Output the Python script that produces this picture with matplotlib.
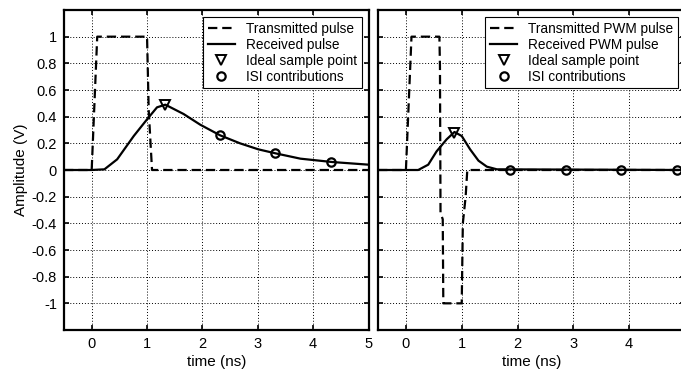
import matplotlib
matplotlib.use("Agg")
import matplotlib.pyplot as plt
from matplotlib.ticker import FixedLocator, FixedFormatter

plt.rcParams['font.family'] = ['Liberation Sans', 'DejaVu Sans']

# ---- data: left panel (single pulse) ----
tx_t = [-0.5, 0.0, 0.1, 1.0, 1.03, 1.09, 5.0]
tx_v = [0.0, 0.0, 1.0, 1.0, 0.45, 0.0, 0.0]
rx_t = [-0.5, 0.0, 0.23, 0.46, 0.76, 1.0, 1.18, 1.33, 1.66, 1.96, 2.32, 2.68,
        3.01, 3.32, 3.77, 4.34, 5.0]
rx_v = [0.0, 0.0, 0.005, 0.08, 0.255, 0.38, 0.47, 0.49, 0.42, 0.34, 0.26, 0.20,
        0.155, 0.125, 0.085, 0.06, 0.04]
samp_t = [1.32]
samp_v = [0.485]
isi_t = [2.32, 3.32, 4.32]
isi_v = [0.26, 0.125, 0.06]

# ---- data: right panel (PWM pulse) ----
ptx_t = [-0.5, 0.0, 0.1, 0.6, 0.61, 0.62, 0.66, 0.67, 1.0, 1.02, 1.07, 1.1, 5.0]
ptx_v = [0.0, 0.0, 1.0, 1.0, 0.78, -0.32, -0.37, -1.0, -1.0, -0.4, -0.2, 0.0, 0.0]
prx_t = [-0.5, 0.0, 0.22, 0.40, 0.55, 0.73, 0.87, 1.0, 1.15, 1.30, 1.45, 1.63, 5.0]
prx_v = [0.0, 0.0, 0.0, 0.04, 0.14, 0.23, 0.285, 0.255, 0.155, 0.07, 0.025, 0.005, 0.0]
psamp_t = [0.87]
psamp_v = [0.28]
pisi_t = [1.86, 2.86, 3.86, 4.86]
pisi_v = [0.0, 0.0, 0.0, 0.0]

xticks = [0, 1, 2, 3, 4, 5]
xtick_labels_left = ['0', '1', '2', '3', '4', '5']
xtick_labels_right = ['0', '1', '2', '3', '4', '']  # the "5" falls outside the picture
yticks = [1, 0.8, 0.6, 0.4, 0.2, 0, -0.2, -0.4, -0.6, -0.8, -1]
ytick_labels = ['1', '0.8', '0.6', '0.4', '0.2', '0', '-0.2', '-0.4', '-0.6', '-0.8', '-1']

left_labels = ['Transmitted pulse', 'Received pulse', 'Ideal sample point', 'ISI contributions']
right_labels = ['Transmitted PWM pulse', 'Received PWM pulse', 'Ideal sample point', 'ISI contributions']

fig = plt.figure(figsize=(6.81, 3.69), dpi=100)
W, H = 681.0, 369.0
ax1 = fig.add_axes([64 / W, (H - 330) / H, 304.5 / W, 320 / H])
ax2 = fig.add_axes([378 / W, (H - 330) / H, 307 / W, 320 / H])

dash = (0, (4.2, 2.2))


def draw(ax, tt, tv, rt, rv, st, sv, it, iv, labels, xlabels, show_ylabels):
    l1, = ax.plot(tt, tv, color='black', lw=1.6, linestyle=dash)
    l2, = ax.plot(rt, rv, color='black', lw=1.6, linestyle='-')
    l3, = ax.plot(st, sv, linestyle='none', marker='v', markersize=7,
                  markerfacecolor='none', markeredgecolor='black', markeredgewidth=1.4)
    l4, = ax.plot(it, iv, linestyle='none', marker='o', markersize=6,
                  markerfacecolor='none', markeredgecolor='black', markeredgewidth=1.6)
    ax.set_xlim(-0.5, 5)
    ax.set_ylim(-1.2, 1.2)
    ax.xaxis.set_major_locator(FixedLocator(xticks))
    ax.xaxis.set_major_formatter(FixedFormatter(xlabels))
    ax.yaxis.set_major_locator(FixedLocator(yticks))
    if show_ylabels:
        ax.yaxis.set_major_formatter(FixedFormatter(ytick_labels))
    else:
        ax.yaxis.set_major_formatter(FixedFormatter([''] * len(yticks)))
    ax.grid(True, color='black', linestyle=(0, (1, 2)), linewidth=0.7)
    ax.tick_params(direction='in', length=3.5, width=1.2, top=True, right=True,
                   labelsize=10.5, pad=5, colors='black')
    for s in ax.spines.values():
        s.set_linewidth(1.6)
        s.set_color('black')
    ax.set_xlabel('time (ns)', fontsize=11, labelpad=3)
    leg = ax.legend([l1, l2, l3, l4], labels, loc='upper right', fontsize=9.8,
                    frameon=True, fancybox=False, edgecolor='black', framealpha=1,
                    handlelength=2.0, handletextpad=0.8, labelspacing=0.15,
                    borderpad=0.35, borderaxespad=0.5)
    leg.get_frame().set_linewidth(0.8)
    return ax


draw(ax1, tx_t, tx_v, rx_t, rx_v, samp_t, samp_v, isi_t, isi_v, left_labels,
     xtick_labels_left, True)
draw(ax2, ptx_t, ptx_v, prx_t, prx_v, psamp_t, psamp_v, pisi_t, pisi_v, right_labels,
     xtick_labels_right, False)
ax1.set_ylabel('Amplitude (V)', fontsize=11, labelpad=3)

fig.savefig('out.png', dpi=100)
